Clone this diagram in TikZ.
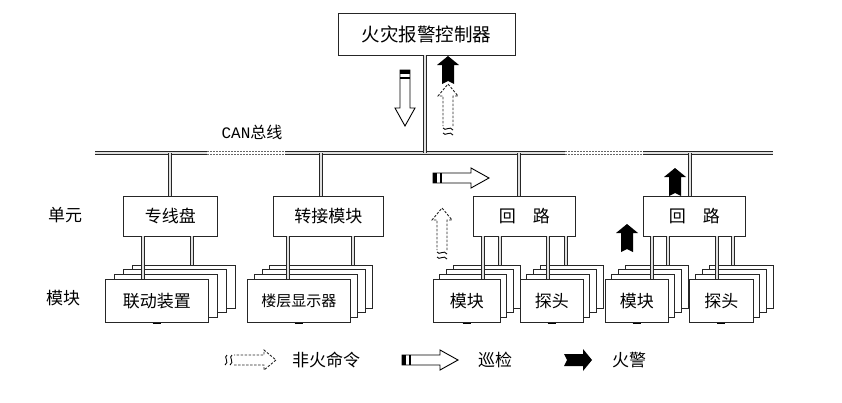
\documentclass[tikz,border=0pt]{standalone}
\usepackage{fontspec}
\newfontfamily\cjk{Noto Sans CJK SC}
\newfontfamily\monof{Liberation Mono}
\begin{document}
\begin{tikzpicture}[x=1pt,y=-1pt,
  box/.style={draw=black!85, line width=0.9pt, fill=white, minimum height=40pt, inner sep=0pt, font=\cjk\fontsize{17}{17}\selectfont},
  wire/.style={draw=black!85, line width=3.8pt, postaction={draw=black!12, line width=1.6pt}},
  dwire/.style={draw=black!60, line width=3.8pt, dash pattern=on 2pt off 1pt, postaction={draw=white, line width=1.6pt, solid}},
  lbl/.style={font=\cjk\fontsize{17}{17}\selectfont, inner sep=0pt},
  patrol/.pic={
    \draw[line width=0.9pt, fill=white] (0,5) -- (38,5) -- (38,10) -- (56,0) -- (38,-10) -- (38,-5) -- (0,-5) -- cycle;
    \fill (0,5) rectangle (4,-5);
    \fill (7,5) rectangle (8.5,-5);
  },
  fire/.pic={
    \fill (0,6) -- (19,6) -- (19,11) -- (28,0) -- (19,-11) -- (19,-6) -- (0,-6) -- (3,0) -- cycle;
  },
  cmd/.pic={
    \draw[line width=0.9pt, black!85, dash pattern=on 2.5pt off 1.5pt] (12,5) -- (42,5) -- (42,10) -- (54,0) -- (42,-10) -- (42,-5) -- (12,-5);
    \draw[line width=0.9pt] (5,-5) .. controls (1,-3) and (8,2) .. (3,5);
    \draw[line width=0.9pt] (10,-5) .. controls (6,-3) and (13,2) .. (8,5);
  }
]
\useasboundingbox (0,0) rectangle (842,402);
\newcommand{\stk}[7]{% name, x1, y1, x2, y2, text, dx
  \foreach \k in {3,2,1}{
    \draw[draw=black!85, line width=0.8pt, fill=white] ({#2+#7*\k},{#3-4.6*\k}) rectangle ({#4+#7*\k},{#5-4.6*\k});
  }
  \node[box, minimum width={(#4-#2)*1pt}, minimum height={(#5-#3)*1pt}, anchor=north west] (#1) at (#2,#3) {#6};
  \draw[line width=1.6pt] ({(#2+#4)/2-4},{#5+1.5}) -- ({(#2+#4)/2+4},{#5+1.5});
}

% controller
\node[box, minimum width=177pt, minimum height=42pt, font=\cjk\fontsize{18.5}{18.5}\selectfont] (ctl) at (426.5,34) {火灾报警控制器};

% bus
\coordinate (bl) at (95,153);
\coordinate (br) at (773,153);
\coordinate (d1a) at (207,153);
\coordinate (d1b) at (285,153);
\coordinate (d2a) at (565,153);
\coordinate (d2b) at (643,153);
\draw[wire] (bl) -- (d1a);
\draw[dwire] (d1a) -- (d1b);
\draw[wire] (d1b) -- (d2a);
\draw[dwire] (d2a) -- (d2b);
\draw[wire] (d2b) -- (br);
\node[inner sep=0pt, font=\fontsize{16}{16}\selectfont] (canlbl) at (252,132) {{\monof CAN}{\cjk 总线}};

% controller drop
\coordinate (cb) at (425,153);
\coordinate (ct) at (425,55);
\draw[wire] (ct) -- (cb);

% units
\node[box, minimum width=94pt, anchor=north west] (zx) at (123,196) {专线盘};
\node[box, minimum width=110pt, anchor=north west] (zj) at (273,196) {转接模块};
\node[box, minimum width=102pt, anchor=north west] (hl1) at (473,196) {回\hspace{1em}路};
\node[box, minimum width=102pt, anchor=north west] (hl2) at (643,196) {回\hspace{1em}路};

\draw[wire] (170,153) -- (170,196);
\draw[wire] (321,153) -- (321,196);
\draw[wire] (519,153) -- (519,196);
\draw[wire] (690,153) -- (690,196);

% side labels
\node[lbl] (l1) at (65,215) {单元};
\node[lbl] (l2) at (63,298) {模块};

% stacks
\stk{ld}{105}{279}{208}{322}{联动装置}{9}
\stk{lc}{247}{279}{350}{322}{\fontsize{15}{15}\selectfont 楼层显示器}{7.5}
\stk{mk1}{433}{279}{500}{322}{模块}{6.7}
\stk{tt1}{520}{279}{583}{322}{探头}{6.7}
\stk{mk2}{605}{279}{668}{322}{模块}{6.7}
\stk{tt2}{689}{279}{753}{322}{探头}{6.7}

% unit-to-stack wires
\draw[wire] (143,236) -- (143,279);
\draw[wire] (192,236) -- (192,265);
\draw[wire] (288,236) -- (288,279);
\draw[wire] (353,236) -- (353,265);
\draw[wire] (483,236) -- (483,279);
\draw[wire] (500,236) -- (500,265);
\draw[wire] (548,236) -- (548,279);
\draw[wire] (566,236) -- (566,265);
\draw[wire] (652,236) -- (652,279);
\draw[wire] (668,236) -- (668,265);
\draw[wire] (717,236) -- (717,279);
\draw[wire] (733,236) -- (733,265);

% arrows in diagram
\pic[rotate=-90] at (405,70) {patrol};
\pic at (433,178) {patrol};
\pic[rotate=90] at (448,84) {fire};
\pic[rotate=90] at (448,138) {cmd};
\pic[rotate=90] at (442,262) {cmd};
\pic[rotate=90] at (675,196) {fire};
\pic[rotate=90] at (627,252) {fire};

% legend
\pic at (222,360) {cmd};
\node[lbl] (lg1) at (326,360) {非火命令};
\pic at (402,360) {patrol};
\node[lbl] (lg2) at (495,360) {巡检};
\pic at (564,360) {fire};
\node[lbl] (lg3) at (629,360) {火警};
\end{tikzpicture}
\end{document}
